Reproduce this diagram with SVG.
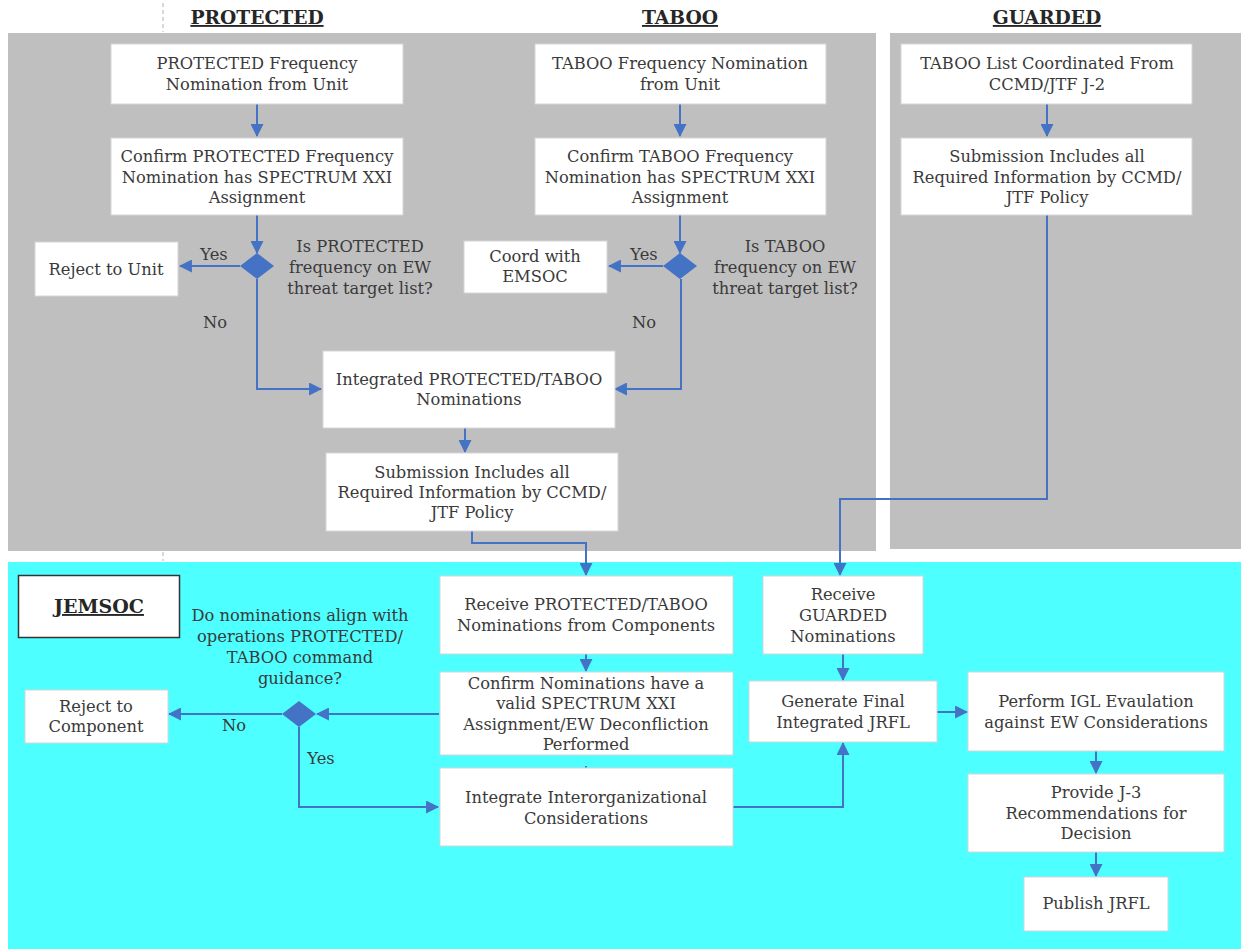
<svg xmlns="http://www.w3.org/2000/svg" width="1241" height="949" viewBox="0 0 1241 949">
  <style>
    .lane-gray { fill: #bfbfbf; }
    .lane-cyan { fill: #4dffff; }
    .box { fill: #ffffff; stroke: #d6d6d6; stroke-width: 1; }
    .t { font-family: "DejaVu Serif", "Liberation Serif", serif; font-size: 16.3px; fill: #3a3a3a; text-anchor: middle; }
    .lbl { font-family: "DejaVu Serif", "Liberation Serif", serif; font-size: 16.3px; fill: #3a3a3a; text-anchor: middle; }
    .hdr { font-family: "DejaVu Serif", "Liberation Serif", serif; font-size: 18.7px; font-weight: bold; fill: #262626; text-anchor: middle; text-decoration: underline; }
    .conn { fill: none; stroke: #4472c4; stroke-width: 2; }
    .dia { fill: #4472c4; }
    .dash { stroke: #b0b0b0; stroke-width: 1; stroke-dasharray: 4 3; }
  </style>
  <defs>
    <marker id="arrow" markerUnits="userSpaceOnUse" markerWidth="13" markerHeight="13" viewBox="0 0 12 12" refX="11" refY="6" orient="auto">
      <path d="M0,0 L12,6 L0,12 Z" fill="#4472c4"/>
    </marker>
  </defs>

  <rect width="1241" height="949" fill="#ffffff"/>

  <!-- swimlane backgrounds -->
  <rect class="lane-gray" x="8" y="33" width="868" height="518"/>
  <rect class="lane-gray" x="890" y="33" width="351" height="516"/>
  <rect class="lane-cyan" x="8" y="562" width="1233" height="387"/>
  <line class="dash" x1="163" y1="3" x2="163" y2="32"/>
  <line class="dash" x1="163" y1="552" x2="163" y2="561"/>

  <!-- lane headers -->
  <text class="hdr" x="257" y="24">PROTECTED</text>
  <text class="hdr" x="680" y="24">TABOO</text>
  <text class="hdr" x="1047" y="24">GUARDED</text>

  <!-- connectors -->
  <g id="connectors">
    <line class="conn" x1="257" y1="104" x2="257" y2="136" marker-end="url(#arrow)"/>
    <line class="conn" x1="257" y1="215" x2="257" y2="253" marker-end="url(#arrow)"/>
    <line class="conn" x1="240" y1="266" x2="180" y2="266" marker-end="url(#arrow)"/>
    <polyline class="conn" points="257,279 257,389 321,389" marker-end="url(#arrow)"/>

    <line class="conn" x1="680" y1="104" x2="680" y2="136" marker-end="url(#arrow)"/>
    <line class="conn" x1="680" y1="215" x2="680" y2="253" marker-end="url(#arrow)"/>
    <line class="conn" x1="663" y1="266" x2="609" y2="266" marker-end="url(#arrow)"/>
    <polyline class="conn" points="681,279 681,389 615,389" marker-end="url(#arrow)"/>

    <line class="conn" x1="465" y1="428" x2="465" y2="452" marker-end="url(#arrow)"/>
    <polyline class="conn" points="472,531 472,543 586,543 586,575" marker-end="url(#arrow)"/>

    <line class="conn" x1="1047" y1="104" x2="1047" y2="136" marker-end="url(#arrow)"/>
    <polyline class="conn" points="1047,215 1047,499 840,499 840,575" marker-end="url(#arrow)"/>

    <line class="conn" x1="586" y1="654" x2="586" y2="671" marker-end="url(#arrow)"/>
    <line class="conn" x1="586" y1="766" x2="586" y2="768"/>
    <line class="conn" x1="439" y1="714" x2="317" y2="714" marker-end="url(#arrow)"/>
    <line class="conn" x1="282" y1="714" x2="169" y2="714" marker-end="url(#arrow)"/>
    <polyline class="conn" points="299,727 299,807 438,807" marker-end="url(#arrow)"/>
    <polyline class="conn" points="733,807 843,807 843,743" marker-end="url(#arrow)"/>

    <line class="conn" x1="843" y1="654" x2="843" y2="680" marker-end="url(#arrow)"/>
    <line class="conn" x1="937" y1="712" x2="967" y2="712" marker-end="url(#arrow)"/>
    <line class="conn" x1="1096" y1="751" x2="1096" y2="773" marker-end="url(#arrow)"/>
    <line class="conn" x1="1096" y1="852" x2="1096" y2="876" marker-end="url(#arrow)"/>
  </g>

  <!-- PROTECTED lane -->
  <g id="protected-nomination">
    <rect class="box" x="111" y="44" width="292" height="60"/>
    <text class="t" x="257" y="69">PROTECTED Frequency</text>
    <text class="t" x="257" y="90">Nomination from Unit</text>
  </g>
  <g id="protected-confirm">
    <rect class="box" x="111" y="138" width="292" height="77"/>
    <text class="t" x="257" y="162">Confirm PROTECTED Frequency</text>
    <text class="t" x="257" y="183">Nomination has SPECTRUM XXI</text>
    <text class="t" x="257" y="203">Assignment</text>
  </g>
  <g id="protected-decision">
    <polygon class="dia" points="257,253 274,266 257,279 240,266"/>
    <text class="lbl" x="360" y="252">Is PROTECTED</text>
    <text class="lbl" x="360" y="273">frequency on EW</text>
    <text class="lbl" x="360" y="294">threat target list?</text>
    <text class="lbl" x="214" y="260">Yes</text>
    <text class="lbl" x="215" y="328">No</text>
  </g>
  <g id="reject-unit">
    <rect class="box" x="35" y="242" width="143" height="54"/>
    <text class="t" x="106" y="275">Reject to Unit</text>
  </g>

  <!-- TABOO lane -->
  <g id="taboo-nomination">
    <rect class="box" x="535" y="44" width="291" height="60"/>
    <text class="t" x="680" y="69">TABOO Frequency Nomination</text>
    <text class="t" x="680" y="90">from Unit</text>
  </g>
  <g id="taboo-confirm">
    <rect class="box" x="535" y="138" width="291" height="77"/>
    <text class="t" x="680" y="162">Confirm TABOO Frequency</text>
    <text class="t" x="680" y="183">Nomination has SPECTRUM XXI</text>
    <text class="t" x="680" y="203">Assignment</text>
  </g>
  <g id="taboo-decision">
    <polygon class="dia" points="680,253 697,266 680,279 663,266"/>
    <text class="lbl" x="785" y="252">Is TABOO</text>
    <text class="lbl" x="785" y="273">frequency on EW</text>
    <text class="lbl" x="785" y="294">threat target list?</text>
    <text class="lbl" x="644" y="260">Yes</text>
    <text class="lbl" x="644" y="328">No</text>
  </g>
  <g id="coord-emsoc">
    <rect class="box" x="464" y="241" width="143" height="52"/>
    <text class="t" x="535" y="262">Coord with</text>
    <text class="t" x="535" y="282">EMSOC</text>
  </g>

  <g id="integrated-nominations">
    <rect class="box" x="323" y="351" width="292" height="77"/>
    <text class="t" x="469" y="385">Integrated PROTECTED/TABOO</text>
    <text class="t" x="469" y="405">Nominations</text>
  </g>
  <g id="pt-submission">
    <rect class="box" x="326" y="453" width="292" height="78"/>
    <text class="t" x="472" y="478">Submission Includes all</text>
    <text class="t" x="472" y="498">Required Information by CCMD/</text>
    <text class="t" x="472" y="518">JTF Policy</text>
  </g>

  <!-- GUARDED lane -->
  <g id="guarded-list">
    <rect class="box" x="901" y="44" width="291" height="60"/>
    <text class="t" x="1047" y="69">TABOO List Coordinated From</text>
    <text class="t" x="1047" y="90">CCMD/JTF J-2</text>
  </g>
  <g id="guarded-submission">
    <rect class="box" x="901" y="138" width="291" height="77"/>
    <text class="t" x="1047" y="162">Submission Includes all</text>
    <text class="t" x="1047" y="183">Required Information by CCMD/</text>
    <text class="t" x="1047" y="203">JTF Policy</text>
  </g>

  <!-- JEMSOC lane -->
  <g id="jemsoc-title">
    <rect x="18.5" y="575.5" width="161" height="62" fill="#ffffff" stroke="#333333" stroke-width="1.5"/>
    <text x="99" y="613" font-family="DejaVu Serif, Liberation Serif, serif" font-size="19" font-weight="bold" fill="#262626" text-anchor="middle" text-decoration="underline">JEMSOC</text>
  </g>
  <g id="receive-pt">
    <rect class="box" x="440" y="576" width="293" height="78"/>
    <text class="t" x="586" y="610">Receive PROTECTED/TABOO</text>
    <text class="t" x="586" y="631">Nominations from Components</text>
  </g>
  <g id="confirm-nominations">
    <rect class="box" x="440" y="672" width="293" height="83"/>
    <text class="t" x="586" y="689">Confirm Nominations have a</text>
    <text class="t" x="586" y="709">valid SPECTRUM XXI</text>
    <text class="t" x="586" y="730">Assignment/EW Deconfliction</text>
    <text class="t" x="586" y="750">Performed</text>
  </g>
  <g id="guidance-decision">
    <polygon class="dia" points="299,701 316,714 299,727 282,714"/>
    <text class="lbl" x="300" y="621">Do nominations align with</text>
    <text class="lbl" x="300" y="642">operations PROTECTED/</text>
    <text class="lbl" x="300" y="663">TABOO command</text>
    <text class="lbl" x="300" y="684">guidance?</text>
    <text class="lbl" x="234" y="731">No</text>
    <text class="lbl" x="321" y="764">Yes</text>
  </g>
  <g id="reject-component">
    <rect class="box" x="25" y="690" width="143" height="53"/>
    <text class="t" x="96" y="712">Reject to</text>
    <text class="t" x="96" y="732">Component</text>
  </g>
  <g id="integrate-interorg">
    <rect class="box" x="440" y="768" width="293" height="78"/>
    <text class="t" x="586" y="803">Integrate Interorganizational</text>
    <text class="t" x="586" y="824">Considerations</text>
  </g>
  <g id="receive-guarded">
    <rect class="box" x="763" y="576" width="160" height="78"/>
    <text class="t" x="843" y="600">Receive</text>
    <text class="t" x="843" y="621">GUARDED</text>
    <text class="t" x="843" y="642">Nominations</text>
  </g>
  <g id="generate-jrfl">
    <rect class="box" x="749" y="681" width="188" height="61"/>
    <text class="t" x="843" y="707">Generate Final</text>
    <text class="t" x="843" y="728">Integrated JRFL</text>
  </g>
  <g id="igl-evaluation">
    <rect class="box" x="968" y="672" width="256" height="79"/>
    <text class="t" x="1096" y="707">Perform IGL Evaulation</text>
    <text class="t" x="1096" y="728">against EW Considerations</text>
  </g>
  <g id="j3-recommendations">
    <rect class="box" x="968" y="774" width="256" height="78"/>
    <text class="t" x="1096" y="798">Provide J-3</text>
    <text class="t" x="1096" y="819">Recommendations for</text>
    <text class="t" x="1096" y="839">Decision</text>
  </g>
  <g id="publish-jrfl">
    <rect class="box" x="1024" y="877" width="144" height="54"/>
    <text class="t" x="1096" y="909">Publish JRFL</text>
  </g>
</svg>
